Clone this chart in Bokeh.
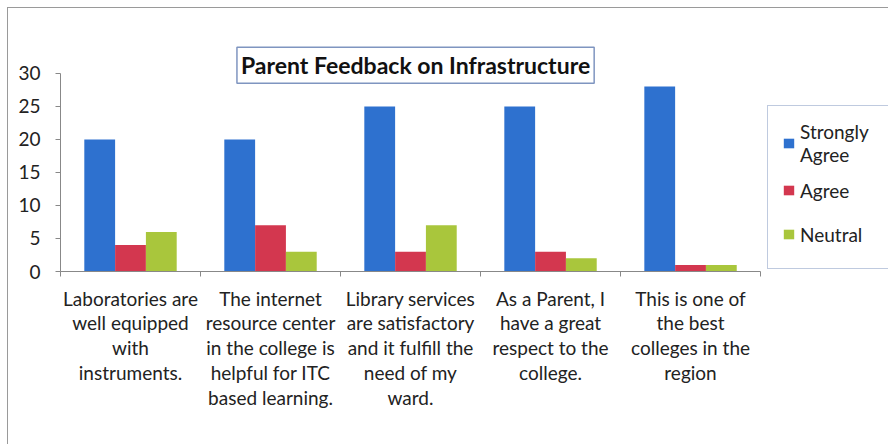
from bokeh.plotting import figure
from bokeh.models import FixedTicker, Label, Legend, LegendItem, ColumnDataSource, Range1d
from bokeh.embed import file_html
from bokeh.resources import INLINE

categories = [
    "Laboratories are\nwell equipped\nwith\ninstruments.",
    "The internet\nresource center\nin the college is\nhelpful for ITC\nbased learning.",
    "Library services\nare satisfactory\nand it fulfill the\nneed of my\nward.",
    "As a Parent, I\nhave a great\nrespect to the\ncollege.",
    "This is one of\nthe best\ncolleges in the\nregion",
]
series_names = ["Strongly\nAgree", "Agree", "Neutral"]
strongly_agree = [20, 20, 25, 25, 28]
agree = [4, 7, 3, 3, 1]
neutral = [6, 3, 7, 2, 1]
y_ticks = [0, 5, 10, 15, 20, 25, 30]
title_text = "Parent Feedback on Infrastructure"

FONT = "Lato"
colors = ["#2e71cf", "#d3374f", "#a9c63c"]
values = [strongly_agree, agree, neutral]
bar_w = 0.22
offsets = [-bar_w, 0.0, bar_w]

n = len(categories)
centers = [i + 0.5 for i in range(n)]

p = figure(width=888, height=444, output_backend="svg", toolbar_location=None,
           x_range=Range1d(0, 5.914), y_range=Range1d(0, 36.5),
           min_border_left=60, min_border_right=0, min_border_top=30, min_border_bottom=173,
           styles={"background-image": "linear-gradient(#9a9a9a,#9a9a9a), linear-gradient(#9a9a9a,#9a9a9a)",
                   "background-size": "100% 1px, 1px 100%",
                   "background-position": "7px 7px, 7px 7px",
                   "background-repeat": "no-repeat"})
p.border_fill_color = None
p.background_fill_color = None
p.outline_line_color = None
p.xgrid.grid_line_color = None
p.ygrid.grid_line_color = None

renderers = []
for vals, col, off in zip(values, colors, offsets):
    src = ColumnDataSource(dict(x=[c + off for c in centers], top=vals))
    r = p.vbar(x="x", top="top", width=bar_w, source=src, fill_color=col, line_color=None)
    renderers.append(r)

# y axis
p.yaxis.ticker = FixedTicker(ticks=y_ticks)
p.yaxis.bounds = (0, 30)
p.yaxis.axis_line_color = "#888888"
p.yaxis.major_tick_line_color = "#888888"
p.yaxis.major_tick_out = 5
p.yaxis.major_tick_in = 0
p.yaxis.minor_tick_line_color = None
p.yaxis.major_label_text_font = FONT
p.yaxis.major_label_text_font_size = "19px"
p.yaxis.major_label_text_color = "#222222"
p.yaxis.major_label_standoff = 15

# x axis
p.xaxis.ticker = FixedTicker(ticks=centers, minor_ticks=[float(i) for i in range(n + 1)])
p.xaxis.bounds = (0, n)
p.xaxis.major_label_overrides = {c: lab for c, lab in zip(centers, categories)}
p.xaxis.axis_line_color = "#888888"
p.xaxis.major_tick_line_color = None
p.xaxis.minor_tick_line_color = "#888888"
p.xaxis.minor_tick_out = 5
p.xaxis.minor_tick_in = 0
p.xaxis.major_label_text_font = FONT
p.xaxis.major_label_text_font_size = "19px"
p.xaxis.major_label_text_color = "#222222"
p.xaxis.major_label_text_line_height = 1.08
p.xaxis.major_label_standoff = 9

# title box
title = Label(x=2.536, y=31.25, text=title_text, text_align="center", text_baseline="middle",
              text_font=FONT, text_font_style="bold", text_font_size="23px", text_color="#111111",
              border_line_color="#7f95c0", border_line_width=1.5,
              background_fill_color="white", padding=4)
p.add_layout(title)

legend = Legend(items=[LegendItem(label=nm, renderers=[r]) for nm, r in zip(series_names, renderers)],
                location=(707, 2))
legend.label_text_font = FONT
legend.label_text_font_size = "19px"
legend.label_text_color = "#222222"
legend.border_line_color = "#7f95c0"
legend.border_line_width = 1.5
legend.background_fill_color = "white"
legend.glyph_width = 13
legend.glyph_height = 12
legend.label_standoff = 5
legend.label_width = 110
legend.label_height = 40
legend.spacing = 4
legend.padding = 14
legend.margin = 0
p.add_layout(legend, "center")

open("out.html", "w").write(file_html(p, INLINE))
